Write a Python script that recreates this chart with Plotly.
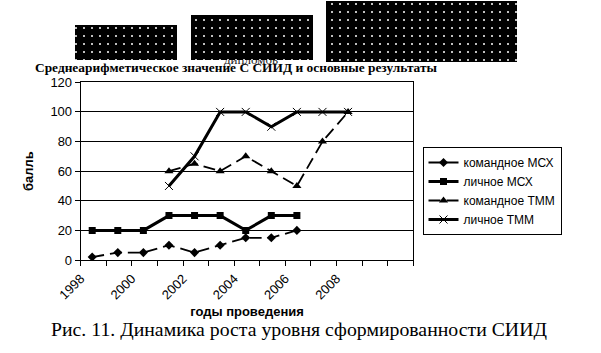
import plotly.graph_objects as go

# ---- data ----
years = [1998, 1999, 2000, 2001, 2002, 2003, 2004, 2005, 2006, 2007, 2008, 2009, 2010]
tick_labels = ["1998", "", "2000", "", "2002", "", "2004", "", "2006", "", "2008", "", "", ""]

team_msh_years = [1998, 1999, 2000, 2001, 2002, 2003, 2004, 2005, 2006]
team_msh = [2, 5, 5, 10, 5, 10, 15, 15, 20]

pers_msh_years = [1998, 1999, 2000, 2001, 2002, 2003, 2004, 2005, 2006]
pers_msh = [20, 20, 20, 30, 30, 30, 20, 30, 30]

team_tmm_years = [2001, 2002, 2003, 2004, 2005, 2006, 2007, 2008]
team_tmm = [60, 65, 60, 70, 60, 50, 80, 100]

pers_tmm_years = [2001, 2002, 2003, 2004, 2005, 2006, 2007, 2008]
pers_tmm = [50, 70, 100, 100, 90, 100, 100, 100]

series_names = ["командное МСХ", "личное МСХ", "командное ТММ", "личное ТММ"]

W, H = 601, 353
SANS = "Liberation Sans, Arial, sans-serif"
SERIF = "Liberation Serif, Times New Roman, serif"

x0 = years[0] - 0.45
xr = [x0, x0 + len(years)]
tickvals = [x0 + k for k in range(len(years) + 1)]

fig = go.Figure()

fig.add_trace(go.Scatter(
    x=team_msh_years, y=team_msh, name=series_names[0], mode="lines+markers",
    line=dict(color="black", width=1.8, dash="12px,6px"),
    marker=dict(symbol="diamond", size=7, color="black")))
fig.add_trace(go.Scatter(
    x=pers_msh_years, y=pers_msh, name=series_names[1], mode="lines+markers",
    line=dict(color="black", width=3),
    marker=dict(symbol="square", size=7, color="black")))
fig.add_trace(go.Scatter(
    x=team_tmm_years, y=team_tmm, name=series_names[2], mode="lines+markers",
    line=dict(color="black", width=1.8, dash="12px,6px"),
    marker=dict(symbol="triangle-up", size=8, color="black")))
fig.add_trace(go.Scatter(
    x=pers_tmm_years, y=pers_tmm, name=series_names[3], mode="lines+markers",
    line=dict(color="black", width=3),
    marker=dict(symbol="x-thin-open", size=8, color="black",
                line=dict(color="black", width=1))))

# ---- decorative overlay (pixel coordinates) ----
fig.add_trace(go.Scatter(
    x=[251], y=[61], mode="text", text=["дипломов"], showlegend=False,
    textfont=dict(family=SERIF, size=13, color="#222"),
    xaxis="x2", yaxis="y2", hoverinfo="skip"))
rects = [(75, 25, 177, 60), (191, 15, 313, 60), (326, 1, 517, 62)]
for (a, b, c, d) in rects:
    fig.add_trace(go.Scatter(
        x=[a, c, c, a, a], y=[b, b, d, d, b], mode="lines", fill="toself",
        line=dict(width=0, color="black"), fillcolor="black",
        fillpattern=dict(shape=".", bgcolor="black", fgcolor="white",
                         size=8, solidity=0.05, fillmode="replace"),
        showlegend=False, xaxis="x2", yaxis="y2", hoverinfo="skip"))

fig.update_layout(
    template="none",
    width=W, height=H, margin=dict(l=0, r=0, t=0, b=0, pad=0, autoexpand=False),
    paper_bgcolor="white", plot_bgcolor="rgba(0,0,0,0)",
    font=dict(family=SANS, color="black", size=13),
    showlegend=True,
    legend=dict(x=422.5 / W, y=1 - 147 / H, xanchor="left", yanchor="top",
                bordercolor="black", borderwidth=1, bgcolor="white",
                font=dict(family=SANS, size=12, color="black"),
                tracegroupgap=0, itemwidth=30),
    xaxis=dict(domain=[80.7 / W, 413.3 / W], range=xr, automargin=False,
               tickmode="array", tickvals=tickvals, ticktext=tick_labels,
               tickangle=-45, ticks="outside", ticklen=5, tickcolor="black",
               showline=True, linecolor="black", linewidth=1, mirror=True,
               showgrid=False, zeroline=False,
               tickfont=dict(family=SANS, size=13),
               title=dict(text="<b>годы проведения</b>", standoff=5,
                          font=dict(family=SANS, size=13))),
    yaxis=dict(domain=[1 - 260 / H, 1 - 82.3 / H], range=[0, 120], automargin=False,
               tickvals=[0, 20, 40, 60, 80, 100, 120],
               ticks="outside", ticklen=5, tickcolor="black",
               showline=True, linecolor="black", linewidth=1, mirror=True,
               showgrid=True, gridcolor="black", gridwidth=1, zeroline=False,
               tickfont=dict(family=SANS, size=13),
               title=dict(text="<b>балль</b>", standoff=13,
                          font=dict(family=SANS, size=13))),
    xaxis2=dict(domain=[0, 1], range=[0, W], visible=False, automargin=False,
                anchor="y2", fixedrange=True),
    yaxis2=dict(domain=[0, 1], range=[H, 0], visible=False, anchor="x2",
                automargin=False, fixedrange=True),
    annotations=[
        dict(text="<b>Среднеарифметическое значение С СИИД и основные результаты</b>",
             x=33 / W, y=1 - 68 / H, xref="paper", yref="paper",
             xanchor="left", yanchor="middle", showarrow=False,
             font=dict(family=SERIF, size=13.4, color="black")),
        dict(text="Рис. 11. Динамика роста уровня сформированности СИИД",
             x=298.5 / W, y=1 - 329 / H, xref="paper", yref="paper",
             xanchor="center", yanchor="middle", showarrow=False,
             font=dict(family=SERIF, size=19.8, color="black")),
    ],
)

fig.write_html("out.html")
